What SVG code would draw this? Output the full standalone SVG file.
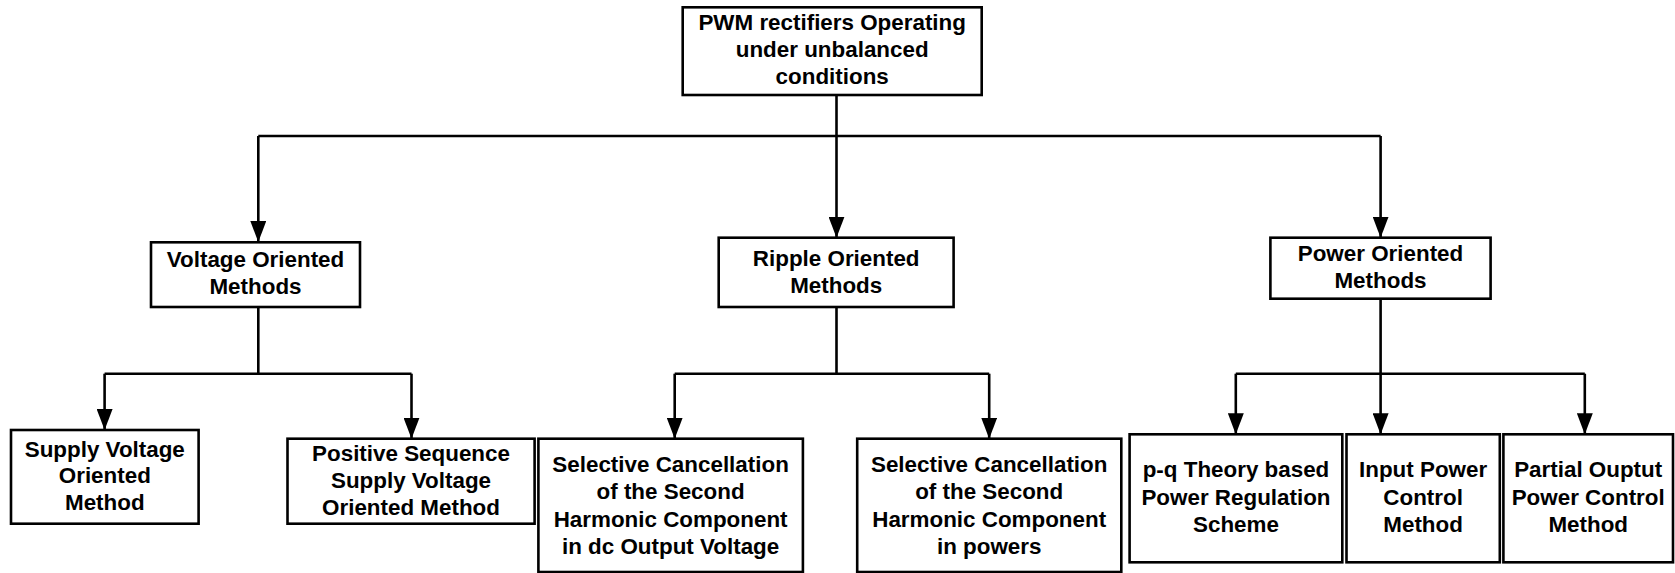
<svg xmlns="http://www.w3.org/2000/svg" width="1675" height="573" viewBox="0 0 1675 573">
<defs>
<style>
.box{fill:#fff;stroke:#000;stroke-width:2.6}
.t{font-family:"Liberation Sans",Arial,sans-serif;font-weight:bold;font-size:22.4px;fill:#000;text-anchor:middle}
.c{fill:none;stroke:#000;stroke-width:2.6}
</style>
<marker id="ar" markerUnits="userSpaceOnUse" markerWidth="21" markerHeight="16" refX="21" refY="8" orient="auto">
<path d="M0,0 L21,8 L0,16 z" fill="#000"/>
</marker>
</defs>
<rect width="1675" height="573" fill="#fff"/>
<g id="connectors">
<path class="c" d="M836.5,95 V136"/>
<path class="c" d="M258.3,136 H1380.6"/>
<path class="c" d="M258.3,136 V242" marker-end="url(#ar)"/>
<path class="c" d="M836.5,136 V237.7" marker-end="url(#ar)"/>
<path class="c" d="M1380.6,136 V237.7" marker-end="url(#ar)"/>
<path class="c" d="M258.3,307 V373.7 M104.6,373.7 H411.5"/>
<path class="c" d="M104.6,373.7 V430" marker-end="url(#ar)"/>
<path class="c" d="M411.5,373.7 V438.7" marker-end="url(#ar)"/>
<path class="c" d="M836.5,307 V373.7 M674.7,373.7 H989.2"/>
<path class="c" d="M674.7,373.7 V438.7" marker-end="url(#ar)"/>
<path class="c" d="M989.2,373.7 V438.7" marker-end="url(#ar)"/>
<path class="c" d="M1380.6,298.7 V373.7 M1235.8,373.7 H1584.8"/>
<path class="c" d="M1235.8,373.7 V434.3" marker-end="url(#ar)"/>
<path class="c" d="M1380.6,373.7 V434.3" marker-end="url(#ar)"/>
<path class="c" d="M1584.8,373.7 V434.3" marker-end="url(#ar)"/>
</g>
<g id="root">
<rect class="box" x="682.7" y="7.3" width="299" height="87.7"/>
<text class="t" x="832.2" y="30">PWM rectifiers Operating</text>
<text class="t" x="832.2" y="56.8">under unbalanced</text>
<text class="t" x="832.2" y="83.6">conditions</text>
</g>
<g id="voltage">
<rect class="box" x="151" y="242.3" width="209" height="64.7"/>
<text class="t" x="255.5" y="267.3">Voltage Oriented</text>
<text class="t" x="255.5" y="294">Methods</text>
</g>
<g id="ripple">
<rect class="box" x="718.7" y="237.7" width="234.9" height="69.3"/>
<text class="t" x="836.2" y="265.7">Ripple Oriented</text>
<text class="t" x="836.2" y="292.7">Methods</text>
</g>
<g id="power">
<rect class="box" x="1270.4" y="237.7" width="220.2" height="61"/>
<text class="t" x="1380.5" y="260.7">Power Oriented</text>
<text class="t" x="1380.5" y="288">Methods</text>
</g>
<g id="supply">
<rect class="box" x="11" y="430" width="187.6" height="93.7"/>
<text class="t" x="104.8" y="456.7">Supply Voltage</text>
<text class="t" x="104.8" y="483.4">Oriented</text>
<text class="t" x="104.8" y="510.1">Method</text>
</g>
<g id="positive">
<rect class="box" x="287.5" y="438.7" width="247.1" height="85"/>
<text class="t" x="411" y="460.7">Positive Sequence</text>
<text class="t" x="411" y="487.7">Supply Voltage</text>
<text class="t" x="411" y="514.7">Oriented Method</text>
</g>
<g id="sel-dc">
<rect class="box" x="538.4" y="438.7" width="264.5" height="133.3"/>
<text class="t" x="670.6" y="472.3">Selective Cancellation</text>
<text class="t" x="670.6" y="499.3">of the Second</text>
<text class="t" x="670.6" y="526.5">Harmonic Component</text>
<text class="t" x="670.6" y="553.7">in dc Output Voltage</text>
</g>
<g id="sel-pow">
<rect class="box" x="857.2" y="438.7" width="264.1" height="133.3"/>
<text class="t" x="989.2" y="472.3">Selective Cancellation</text>
<text class="t" x="989.2" y="499.3">of the Second</text>
<text class="t" x="989.2" y="526.5">Harmonic Component</text>
<text class="t" x="989.2" y="553.7">in powers</text>
</g>
<g id="pq">
<rect class="box" x="1129.6" y="434.3" width="212.7" height="128"/>
<text class="t" x="1236" y="477.3">p-q Theory based</text>
<text class="t" x="1236" y="504.8">Power Regulation</text>
<text class="t" x="1236" y="532">Scheme</text>
</g>
<g id="input">
<rect class="box" x="1346.5" y="434.3" width="153.3" height="128"/>
<text class="t" x="1423.1" y="477.3">Input Power</text>
<text class="t" x="1423.1" y="504.8">Control</text>
<text class="t" x="1423.1" y="532">Method</text>
</g>
<g id="partial">
<rect class="box" x="1503.4" y="434.3" width="169.6" height="128"/>
<text class="t" x="1588.2" y="477.3">Partial Ouptut</text>
<text class="t" x="1588.2" y="504.8">Power Control</text>
<text class="t" x="1588.2" y="532">Method</text>
</g>
</svg>
